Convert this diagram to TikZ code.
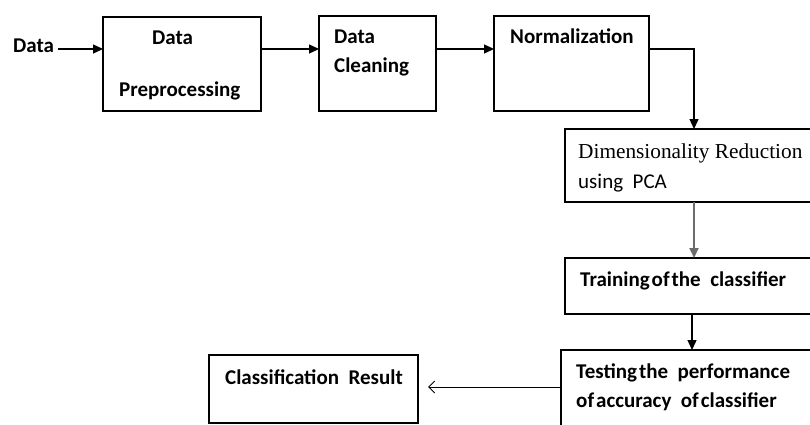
\documentclass[tikz,border=0pt]{standalone}
\usepackage{fontspec}
\setmainfont{Carlito}
\newfontfamily\serifface{Liberation Serif}
\usetikzlibrary{arrows.meta}
\tikzset{
  box/.style={draw, line width=1.3pt, anchor=north west, inner sep=0pt, outer sep=0pt},
  lbl/.style={anchor=base west, inner sep=0pt, font=\fontsize{21}{24}\selectfont\bfseries},
  arr/.style={line width=1.3pt, -{Triangle[length=10pt,width=9pt]}},
}
\newcommand{\tsp}{\hspace{2pt}}
\begin{document}
\begin{tikzpicture}[x=1pt,y=-1pt]
\useasboundingbox (0,0) rectangle (810,425);
\clip (0,0) rectangle (810,425);
% boxes
\node[box, minimum width=158pt, minimum height=94pt] (b1) at (103,17) {};
\node[box, minimum width=117pt, minimum height=95pt] (b2) at (319,16) {};
\node[box, minimum width=155pt, minimum height=95pt] (b3) at (494,16) {};
\node[box, minimum width=260pt, minimum height=73pt] (dim) at (565,129) {};
\node[box, minimum width=260pt, minimum height=56pt] (train) at (565,258) {};
\node[box, minimum width=260pt, minimum height=90pt] (test) at (561,350) {};
\node[box, line width=2.3pt, minimum width=209pt, minimum height=68pt] (cls) at (209,355) {};
% texts
\node[lbl] (din) at (13,53) {Data};
\node[lbl] (t1a) at (152,45) {Data};
\node[lbl] (t1b) at (119,96) {Preprocessing};
\node[lbl] (t2a) at (334,44) {Data};
\node[lbl] (t2b) at (334,73) {Cleaning};
\node[lbl] (t3) at (510,44) {Normalization};
\node[lbl, font=\fontsize{21.3}{24}\selectfont\serifface] (t4a) at (578,158) {Dimensionality Reduction};
\node[lbl, font=\fontsize{21}{24}\selectfont] (t4b) at (578,188) {using\ \ PCA};
\node[lbl] (t5) at (580,286) {Training\tsp of\tsp the\ \ classifier};
\node[lbl] (t6a) at (576,378) {Testing\tsp the\ \ performance};
\node[lbl] (t6b) at (576,407) {of\tsp accuracy\ \ of\tsp classifier};
\node[lbl] (t7) at (225,384) {Classification\ \ Result};
% connector helpers
\coordinate (y1) at (0,49);
\coordinate (c1) at (694,49);
\coordinate (c2) at (692,0);
\coordinate (y3) at (0,387);
% connectors
\draw[arr] (58,49) coordinate (dstart) -- (dstart -| b1.west);
\draw[arr] (b1.east |- y1) -- (b2.west |- y1);
\draw[arr] (b2.east |- y1) -- (b3.west |- y1);
\draw[arr] (b3.east |- y1) -- (c1) -- (c1 |- dim.north);
\draw[arr, draw=gray!85!black, line width=2pt] (dim.south -| c1) -- (c1 |- train.north);
\draw[arr] (train.south -| c2) -- (c2 |- test.north);
\draw[line width=1pt, -{Straight Barb[length=6pt,width=12pt]}, shorten >=10pt] (test.west |- y3) -- (cls.east |- y3);
\end{tikzpicture}
\end{document}
